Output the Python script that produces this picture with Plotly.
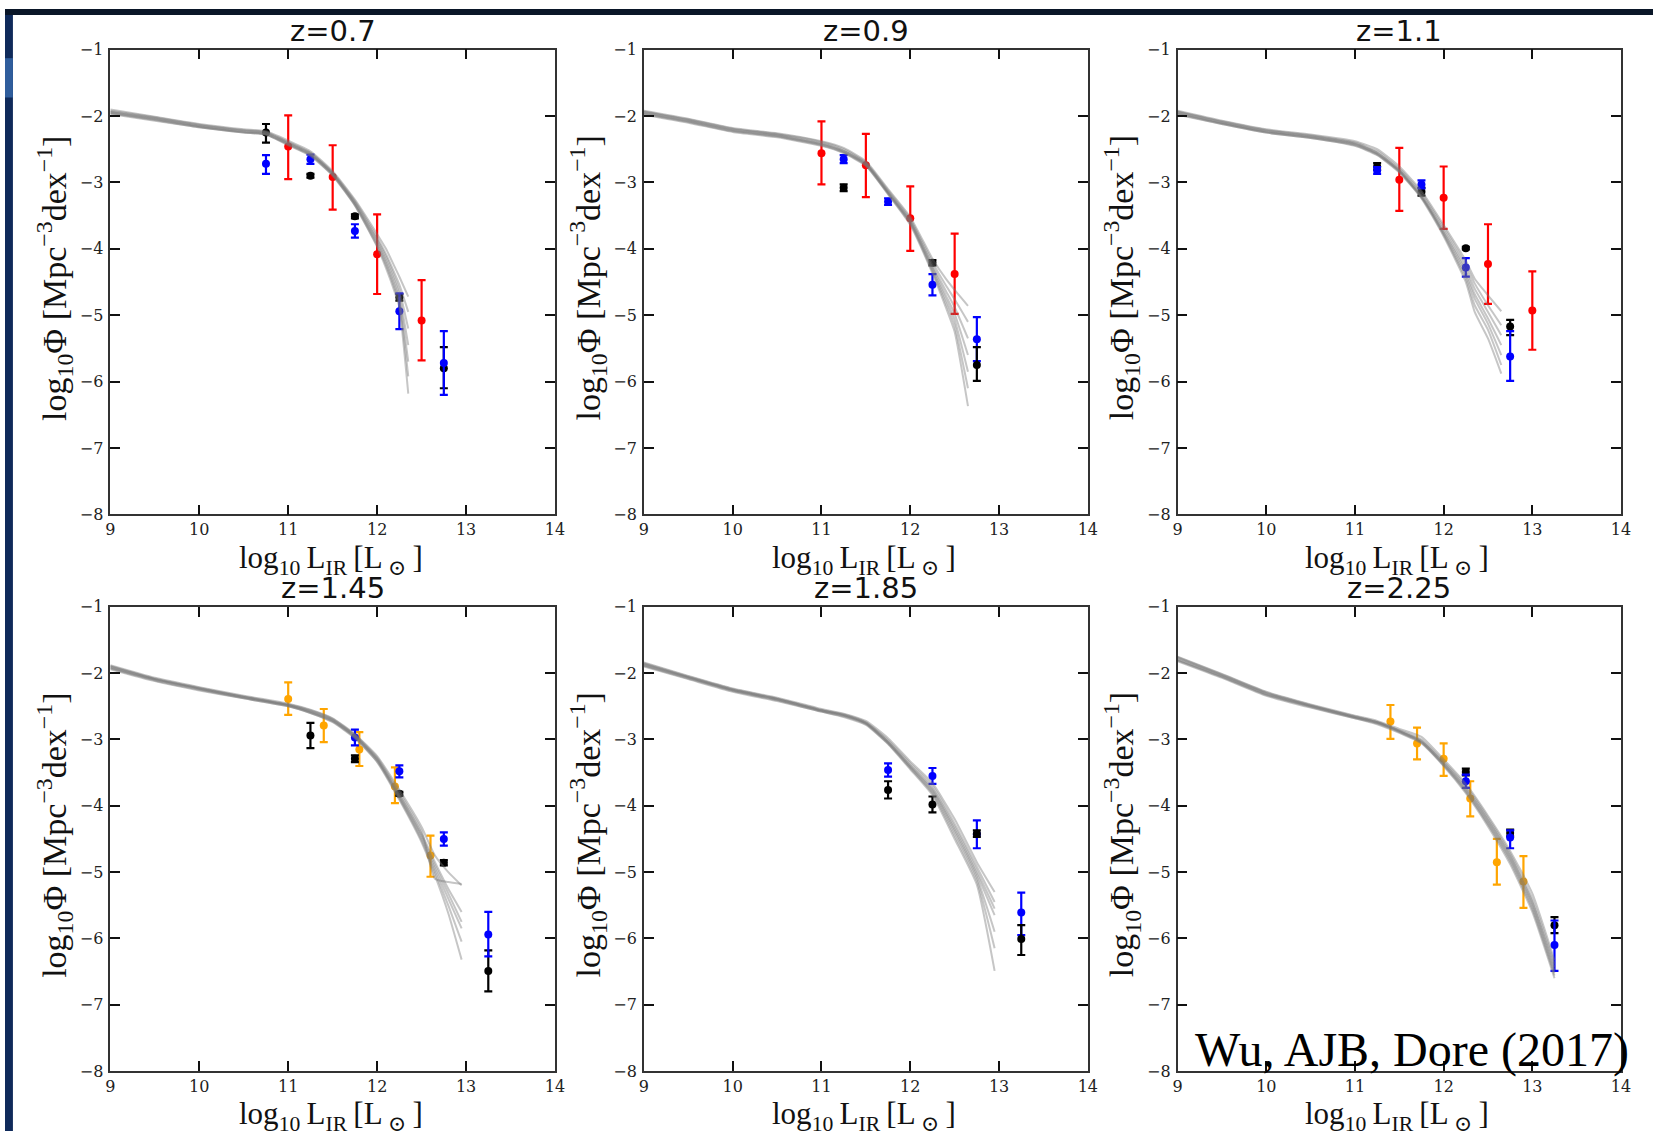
import plotly.graph_objects as go

W, H = 1663, 1141

# ---------------- data ----------------
titles = ["z=0.7", "z=0.9", "z=1.1", "z=1.45", "z=1.85", "z=2.25"]
x_tick_vals = [9, 10, 11, 12, 13, 14]
y_tick_vals = [-8, -7, -6, -5, -4, -3, -2, -1]
credit = "Wu, AJB, Dore (2017)"

# model curves (gray bundles), one list of x per panel, y lists per curve
p1_model_x = [9.0, 9.5, 10.0, 10.5, 10.75, 11.0, 11.25, 11.5, 11.75, 12.0, 12.1, 12.2, 12.25, 12.35]
p1_model_y = [
    [-1.90, -2.01, -2.12, -2.20, -2.23, -2.37, -2.53, -2.83, -3.26, -3.78, -4.00, -4.28, -4.42, -4.72],
    [-1.92, -2.02, -2.13, -2.21, -2.24, -2.39, -2.55, -2.85, -3.28, -3.83, -4.08, -4.38, -4.54, -4.95],
    [-1.93, -2.03, -2.14, -2.22, -2.25, -2.40, -2.56, -2.86, -3.30, -3.86, -4.12, -4.44, -4.62, -5.20],
    [-1.94, -2.04, -2.15, -2.23, -2.26, -2.41, -2.57, -2.87, -3.31, -3.89, -4.17, -4.50, -4.69, -5.45],
    [-1.95, -2.05, -2.16, -2.24, -2.27, -2.42, -2.58, -2.88, -3.33, -3.92, -4.21, -4.56, -4.76, -5.70],
    [-1.96, -2.06, -2.17, -2.25, -2.28, -2.43, -2.59, -2.89, -3.34, -3.95, -4.25, -4.61, -4.82, -5.92],
    [-1.97, -2.07, -2.17, -2.25, -2.28, -2.44, -2.60, -2.90, -3.35, -3.97, -4.29, -4.66, -4.88, -6.18],
]
p2_model_x = [9.0, 9.5, 10.0, 10.5, 11.0, 11.25, 11.5, 11.75, 12.0, 12.25, 12.4, 12.5, 12.65]
p2_model_y = [
    [-1.92, -2.04, -2.18, -2.26, -2.38, -2.48, -2.68, -3.10, -3.52, -4.15, -4.45, -4.62, -4.86],
    [-1.93, -2.05, -2.19, -2.27, -2.39, -2.50, -2.70, -3.12, -3.55, -4.20, -4.55, -4.76, -5.10],
    [-1.94, -2.06, -2.20, -2.28, -2.41, -2.52, -2.71, -3.14, -3.57, -4.25, -4.63, -4.88, -5.35],
    [-1.95, -2.07, -2.21, -2.29, -2.42, -2.53, -2.72, -3.15, -3.59, -4.28, -4.70, -4.98, -5.60],
    [-1.96, -2.08, -2.22, -2.30, -2.43, -2.54, -2.73, -3.16, -3.60, -4.31, -4.76, -5.07, -5.85],
    [-1.97, -2.09, -2.23, -2.31, -2.44, -2.55, -2.74, -3.17, -3.62, -4.34, -4.82, -5.16, -6.10],
    [-1.98, -2.10, -2.24, -2.32, -2.45, -2.56, -2.75, -3.18, -3.64, -4.37, -4.88, -5.25, -6.37],
]
p3_model_x = [9.0, 9.5, 10.0, 10.5, 11.0, 11.25, 11.5, 11.75, 12.0, 12.25, 12.35, 12.5, 12.65]
p3_model_y = [
    [-1.92, -2.07, -2.20, -2.28, -2.38, -2.50, -2.76, -3.13, -3.64, -4.18, -4.45, -4.70, -4.94],
    [-1.93, -2.08, -2.21, -2.29, -2.40, -2.53, -2.79, -3.16, -3.68, -4.24, -4.52, -4.85, -5.15],
    [-1.94, -2.09, -2.22, -2.30, -2.41, -2.55, -2.81, -3.19, -3.72, -4.30, -4.60, -4.95, -5.30],
    [-1.95, -2.10, -2.23, -2.31, -2.42, -2.56, -2.82, -3.21, -3.75, -4.35, -4.68, -5.05, -5.45],
    [-1.96, -2.11, -2.24, -2.32, -2.43, -2.57, -2.83, -3.22, -3.77, -4.40, -4.75, -5.13, -5.60],
    [-1.97, -2.12, -2.25, -2.33, -2.44, -2.58, -2.84, -3.23, -3.79, -4.45, -4.85, -5.22, -5.75],
    [-1.98, -2.12, -2.25, -2.33, -2.45, -2.59, -2.85, -3.24, -3.81, -4.50, -4.95, -5.35, -5.88],
]
p4_model_x = [9.0, 9.5, 10.0, 10.5, 11.0, 11.25, 11.5, 11.75, 12.0, 12.25, 12.5, 12.65, 12.8, 12.95]
p4_model_y = [
    [-1.88, -2.07, -2.21, -2.34, -2.46, -2.55, -2.68, -2.92, -3.25, -3.76, -4.32, -4.75, -5.00, -5.20],
    [-1.89, -2.08, -2.22, -2.35, -2.47, -2.56, -2.69, -2.93, -3.27, -3.80, -4.38, -5.10, -5.15, -5.18],
    [-1.90, -2.09, -2.23, -2.36, -2.48, -2.57, -2.70, -2.94, -3.29, -3.83, -4.42, -4.85, -5.25, -5.60],
    [-1.91, -2.09, -2.23, -2.36, -2.48, -2.58, -2.71, -2.95, -3.30, -3.85, -4.45, -4.90, -5.32, -5.75],
    [-1.92, -2.10, -2.24, -2.37, -2.49, -2.59, -2.72, -2.96, -3.31, -3.87, -4.48, -4.95, -5.40, -5.85],
    [-1.93, -2.11, -2.25, -2.38, -2.50, -2.60, -2.73, -2.97, -3.33, -3.89, -4.52, -5.00, -5.50, -6.05],
    [-1.94, -2.12, -2.26, -2.38, -2.50, -2.60, -2.74, -2.98, -3.34, -3.91, -4.55, -5.05, -5.62, -6.32],
]
p5_model_x = [9.0, 9.5, 10.0, 10.5, 11.0, 11.25, 11.5, 11.75, 12.0, 12.25, 12.5, 12.75, 12.95]
p5_model_y = [
    [-1.84, -2.04, -2.23, -2.37, -2.54, -2.61, -2.72, -2.98, -3.33, -3.66, -4.20, -4.85, -5.30],
    [-1.85, -2.05, -2.24, -2.38, -2.55, -2.62, -2.74, -3.01, -3.36, -3.70, -4.27, -4.92, -5.45],
    [-1.86, -2.06, -2.25, -2.39, -2.56, -2.63, -2.75, -3.03, -3.39, -3.74, -4.32, -4.98, -5.55],
    [-1.87, -2.06, -2.25, -2.39, -2.56, -2.63, -2.75, -3.04, -3.40, -3.76, -4.36, -5.03, -5.65],
    [-1.88, -2.07, -2.26, -2.40, -2.57, -2.64, -2.76, -3.05, -3.42, -3.79, -4.40, -5.08, -5.90],
    [-1.89, -2.08, -2.27, -2.41, -2.58, -2.65, -2.77, -3.06, -3.43, -3.81, -4.45, -5.13, -6.15],
    [-1.90, -2.09, -2.28, -2.42, -2.58, -2.66, -2.78, -3.07, -3.45, -3.84, -4.50, -5.19, -6.49],
]
p6_model_x = [9.0, 9.5, 10.0, 10.5, 11.0, 11.25, 11.5, 11.75, 12.0, 12.25, 12.5, 12.75, 13.0, 13.25]
p6_model_y = [
    [-1.75, -2.01, -2.28, -2.47, -2.64, -2.72, -2.84, -2.96, -3.30, -3.67, -4.15, -4.68, -5.32, -6.33],
    [-1.76, -2.02, -2.29, -2.48, -2.65, -2.73, -2.86, -3.00, -3.33, -3.70, -4.18, -4.72, -5.40, -6.38],
    [-1.77, -2.03, -2.30, -2.49, -2.66, -2.74, -2.87, -3.02, -3.35, -3.73, -4.21, -4.75, -5.45, -6.43],
    [-1.79, -2.04, -2.31, -2.49, -2.66, -2.74, -2.87, -3.03, -3.36, -3.75, -4.23, -4.78, -5.48, -6.48],
    [-1.80, -2.05, -2.32, -2.50, -2.67, -2.75, -2.88, -3.04, -3.38, -3.77, -4.26, -4.81, -5.52, -6.52],
    [-1.81, -2.06, -2.33, -2.51, -2.68, -2.76, -2.89, -3.05, -3.39, -3.79, -4.28, -4.84, -5.56, -6.56],
    [-1.82, -2.07, -2.34, -2.52, -2.68, -2.77, -2.90, -3.06, -3.40, -3.81, -4.31, -4.88, -5.60, -6.60],
]

# data points: x, y, upper error, lower error
p1_black = dict(x=[10.75, 11.25, 11.75, 12.25, 12.75], y=[-2.25, -2.90, -3.51, -4.73, -5.80],
                ep=[0.13, 0.03, 0.03, 0.05, 0.32], em=[0.15, 0.03, 0.03, 0.05, 0.30])
p1_blue = dict(x=[10.75, 11.25, 11.75, 12.25, 12.75], y=[-2.72, -2.65, -3.73, -4.94, -5.72],
               ep=[0.13, 0.07, 0.10, 0.27, 0.48], em=[0.15, 0.07, 0.10, 0.27, 0.48])
p1_red = dict(x=[11.0, 11.5, 12.0, 12.5], y=[-2.46, -2.92, -4.08, -5.08],
              ep=[0.47, 0.48, 0.60, 0.61], em=[0.49, 0.49, 0.60, 0.60])

p2_red = dict(x=[11.0, 11.5, 12.0, 12.5], y=[-2.56, -2.74, -3.54, -4.38],
              ep=[0.48, 0.47, 0.48, 0.61], em=[0.47, 0.48, 0.49, 0.60])
p2_blue = dict(x=[11.25, 11.75, 12.25, 12.75], y=[-2.65, -3.29, -4.54, -5.36],
               ep=[0.06, 0.05, 0.16, 0.33], em=[0.06, 0.05, 0.16, 0.33])
p2_black = dict(x=[11.25, 12.25, 12.75], y=[-3.08, -4.21, -5.75],
                ep=[0.05, 0.04, 0.27], em=[0.05, 0.04, 0.24])

p3_black = dict(x=[11.25, 11.75, 12.25, 12.75], y=[-2.76, -3.14, -3.99, -5.17],
                ep=[0.05, 0.06, 0.02, 0.10], em=[0.05, 0.06, 0.02, 0.13])
p3_blue = dict(x=[11.25, 11.75, 12.25, 12.75], y=[-2.82, -3.03, -4.28, -5.62],
               ep=[0.05, 0.06, 0.14, 0.38], em=[0.05, 0.06, 0.14, 0.37])
p3_red = dict(x=[11.5, 12.0, 12.5, 13.0], y=[-2.96, -3.23, -4.23, -4.93],
              ep=[0.48, 0.47, 0.60, 0.59], em=[0.47, 0.47, 0.60, 0.59])

p4_orange = dict(x=[11.0, 11.4, 11.8, 12.2, 12.6], y=[-2.39, -2.79, -3.15, -3.71, -4.75],
                 ep=[0.25, 0.25, 0.26, 0.29, 0.30], em=[0.24, 0.25, 0.25, 0.25, 0.32])
p4_black = dict(x=[11.25, 11.75, 12.25, 12.75, 13.25], y=[-2.94, -3.29, -3.82, -4.86, -6.49],
                ep=[0.19, 0.05, 0.03, 0.04, 0.31], em=[0.19, 0.05, 0.03, 0.04, 0.31])
p4_blue = dict(x=[11.75, 12.25, 12.75, 13.25], y=[-2.97, -3.48, -4.50, -5.94],
               ep=[0.12, 0.09, 0.10, 0.34], em=[0.12, 0.09, 0.10, 0.33])

p5_blue = dict(x=[11.75, 12.25, 12.75, 13.25], y=[-3.46, -3.55, -4.43, -5.61],
               ep=[0.10, 0.12, 0.21, 0.30], em=[0.10, 0.12, 0.21, 0.34])
p5_black = dict(x=[11.75, 12.25, 12.75, 13.25], y=[-3.76, -3.98, -4.42, -6.01],
                ep=[0.13, 0.12, 0.05, 0.21], em=[0.13, 0.12, 0.05, 0.24])

p6_orange = dict(x=[11.4, 11.7, 12.0, 12.3, 12.6, 12.9], y=[-2.73, -3.06, -3.29, -3.89, -4.85, -5.14],
                 ep=[0.25, 0.24, 0.23, 0.26, 0.35, 0.38], em=[0.26, 0.24, 0.26, 0.27, 0.34, 0.40])
p6_black = dict(x=[12.25, 12.75, 13.25], y=[-3.49, -4.41, -5.80],
                ep=[0.05, 0.05, 0.12], em=[0.05, 0.05, 0.12])
p6_blue = dict(x=[12.25, 12.75, 13.25], y=[-3.63, -4.48, -6.10],
               ep=[0.10, 0.11, 0.37], em=[0.10, 0.16, 0.39])

# ---------------- styling / layout ----------------
COL = {"black": "#000000", "blue": "#0000ff", "red": "#ff0000", "orange": "#ffa500"}

panels = [
    (p1_model_x, p1_model_y, [("black", p1_black), ("blue", p1_blue), ("red", p1_red)]),
    (p2_model_x, p2_model_y, [("red", p2_red), ("blue", p2_blue), ("black", p2_black)]),
    (p3_model_x, p3_model_y, [("black", p3_black), ("blue", p3_blue), ("red", p3_red)]),
    (p4_model_x, p4_model_y, [("orange", p4_orange), ("black", p4_black), ("blue", p4_blue)]),
    (p5_model_x, p5_model_y, [("blue", p5_blue), ("black", p5_black)]),
    (p6_model_x, p6_model_y, [("orange", p6_orange), ("black", p6_black), ("blue", p6_blue)]),
]

cols_px = [(106.3, 555.0), (644.7, 1092.7), (1183.3, 1630.7)]
rows_px = [(41.3, 514.0), (608.0, 1080.0)]


def px_x(v):
    return v / W


def px_y(v):
    return 1 - v / H


fig = go.Figure()
layout = dict(
    width=W, height=H, margin=dict(l=0, r=0, t=0, b=0),
    paper_bgcolor="white", plot_bgcolor="white", showlegend=False,
)
annotations = []
shapes = []

tick_font = dict(family="DejaVu Serif", size=16, color="#222")
xlabel_font = dict(family="Liberation Serif, DejaVu Serif, serif", size=31, color="#111")
ylabel_font = dict(family="Liberation Serif, DejaVu Serif, serif", size=34, color="#111")
title_font = dict(family="DejaVu Sans", size=29, color="#111")

TS = "\u2009"  # thin space

for i, (mx, my_list, pts) in enumerate(panels):
    r, c = divmod(i, 3)
    suffix = "" if i == 0 else str(i + 1)
    xa, ya = "x" + suffix, "y" + suffix
    x0, x1 = cols_px[c]
    y0, y1 = rows_px[r]

    for name, d in pts:
        fig.add_trace(go.Scatter(
            x=d["x"], y=d["y"], mode="markers", xaxis=xa, yaxis=ya,
            marker=dict(color=COL[name], size=8, line=dict(width=0)),
            error_y=dict(type="data", symmetric=False, array=d["ep"], arrayminus=d["em"],
                         color=COL[name], thickness=2.2, width=4),
        ))
    for my in my_list:
        fig.add_trace(go.Scatter(
            x=mx, y=my, mode="lines", xaxis=xa, yaxis=ya,
            line=dict(color="rgba(120,120,120,0.42)", width=2, shape="spline", smoothing=0.5),
        ))

    axis_common = dict(
        showline=True, linecolor="#333", linewidth=1.5, mirror="ticks",
        ticks="inside", ticklen=10, tickwidth=1.5, tickcolor="#111",
        showgrid=False, zeroline=False, tickfont=tick_font,
    )
    layout["xaxis" + suffix] = dict(
        axis_common, domain=[px_x(x0), px_x(x1)], range=[9, 14],
        tickvals=x_tick_vals, anchor=ya, ticklabelstandoff=0,
    )
    layout["yaxis" + suffix] = dict(
        axis_common, domain=[px_y(y1), px_y(y0)], range=[-8, -1],
        tickvals=y_tick_vals, anchor=xa, ticklabelstandoff=2,
    )

    cx = (x0 + x1) / 2
    annotations.append(dict(
        text=titles[i], xref="paper", yref="paper", x=px_x(cx), y=px_y(y0 - 19),
        xanchor="center", yanchor="middle", showarrow=False, font=title_font,
    ))
    annotations.append(dict(
        text="log<sub>10</sub>" + TS + "L<sub>IR</sub>" + TS + "[L<sub> ⊙</sub>" + TS + "]",
        xref="paper", yref="paper",
        x=px_x(cx - 2), y=px_y(y1 + 46), xanchor="center", yanchor="middle",
        showarrow=False, font=xlabel_font,
    ))
    annotations.append(dict(
        text="log<sub>10</sub>Φ [Mpc<sup>−3</sup>dex<sup>−1</sup>]", xref="paper", yref="paper",
        x=px_x(x0 - 57), y=px_y((y0 + y1) / 2 - 4), xanchor="center", yanchor="middle",
        textangle=-90, showarrow=False, font=ylabel_font,
    ))

annotations.append(dict(
    text=credit, xref="paper", yref="paper", x=px_x(1640), y=px_y(1059),
    xanchor="right", yanchor="middle", showarrow=False, borderpad=0,
    font=dict(family="Liberation Serif", size=48, color="#000"),
))

# slide background remnants along the left and top edges
shapes.append(dict(type="rect", xref="paper", yref="paper", x0=0, x1=px_x(8), y0=0, y1=1,
                   fillcolor="#0f2a5a", line=dict(width=0), layer="above"))
shapes.append(dict(type="rect", xref="paper", yref="paper", x0=0, x1=1, y0=px_y(6), y1=1,
                   fillcolor="#0a1628", line=dict(width=0), layer="above"))
shapes.append(dict(type="rect", xref="paper", yref="paper", x0=0, x1=px_x(8), y0=px_y(90), y1=px_y(50),
                   fillcolor="#2f5d9c", line=dict(width=0), layer="above"))

layout["annotations"] = annotations
layout["shapes"] = shapes
fig.update_layout(**layout)

fig.write_html("out.html")
